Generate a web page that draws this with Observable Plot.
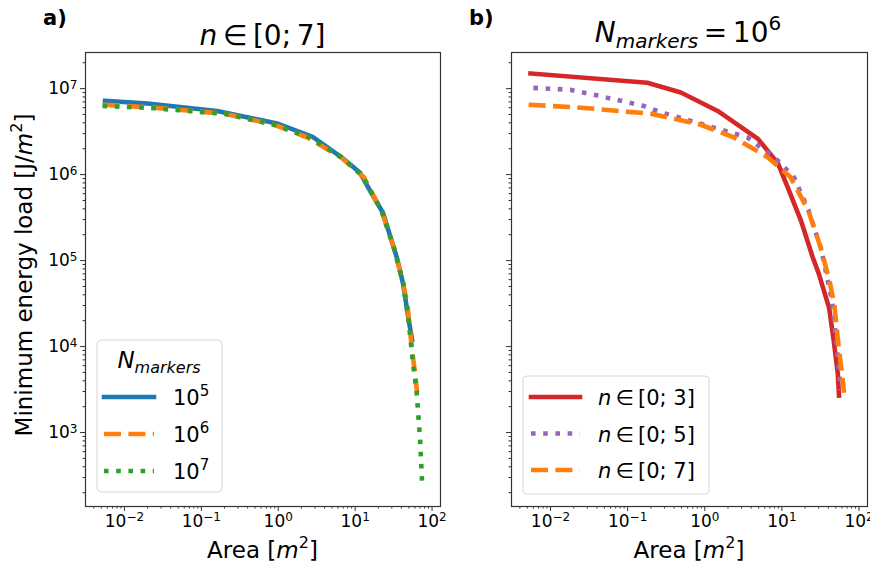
<!DOCTYPE html>
<html><head><meta charset="utf-8">
<script src="https://cdn.jsdelivr.net/npm/d3@7"></script>
<script src="https://cdn.jsdelivr.net/npm/@observablehq/plot@0.6"></script>
<style>
body{margin:0;background:#fff;font-family:"DejaVu Sans",sans-serif;}
#wrap{position:relative;width:870px;height:569px;overflow:hidden;background:#fff;}
#wrap svg{position:absolute;top:0;}
</style></head><body><div id="wrap"></div>
<script>
// ---------- data ----------
const xTickValues = [1e-2, 1e-1, 1e0, 1e1, 1e2];
const yTickValues = [1e3, 1e4, 1e5, 1e6, 1e7];

// panel a) n in [0;7], N_markers = 1e5
const areaN5 = [0.0056, 0.02, 0.16, 1.0, 2.8, 6.6, 11.6, 15.6, 23, 35, 42, 49, 55];
const loadN5 = [7.2e6, 6.7e6, 5.5e6, 3.9e6, 2.75e6, 1.6e6, 1.05e6, 6.5e5, 3.6e5, 1.07e5, 5.4e4, 2.2e4, 1.2e4];
// N_markers = 1e6, n in [0;7] (used in both panels)
const areaN6 = [0.0052, 0.025, 0.2, 0.89, 2.4, 6.6, 13, 22, 32, 42, 48, 55, 60, 64];
const loadN6 = [6.5e6, 6.0e6, 5.1e6, 3.8e6, 2.7e6, 1.58e6, 9.3e5, 3.8e5, 1.4e5, 5.5e4, 3.0e4, 9.0e3, 5.0e3, 2.9e3];
// N_markers = 1e7
const areaN7 = [0.0052, 0.025, 0.2, 0.89, 2.6, 6.6, 12, 22, 32, 42, 49, 57, 63, 70, 74];
const loadN7 = [6.3e6, 5.9e6, 5.1e6, 3.8e6, 2.7e6, 1.6e6, 1.0e6, 3.8e5, 1.4e5, 5.5e4, 2.2e4, 6.0e3, 3.0e3, 8.2e2, 2.75e2];
// panel b) n in [0;3]
const areaR3 = [0.0055, 0.18, 0.49, 1.47, 4.9, 8.9, 11.9, 17.7, 25, 30, 41, 47, 53, 55];
const loadR3 = [1.5e7, 1.17e7, 9.0e6, 5.5e6, 2.6e6, 1.35e6, 7.1e5, 2.9e5, 1.1e5, 7.1e4, 2.8e4, 1.17e4, 4.9e3, 2.7e3];
// n in [0;5]
const areaR5 = [0.006, 0.018, 0.041, 0.16, 0.27, 0.89, 3.6, 8.9, 14.4, 22, 32, 45, 52, 58];
const loadR5 = [1.02e7, 9.7e6, 8.3e6, 6.3e6, 5.3e6, 3.9e6, 2.7e6, 1.45e6, 9.3e5, 3.9e5, 1.4e5, 3.3e4, 9.0e3, 3.1e3];

const legendAExp = [5, 6, 7];          // N_markers = 10^5, 10^6, 10^7
const legendB = ["[0; 3]", "[0; 5]", "[0; 7]"];

// ---------- styles ----------
const LW = 4.6;
const DASHED = "17,7.4";
const DOTTED = "4.6,7.6";
const seriesA = [
  {area: areaN5, load: loadN5, color: "#1f77b4", dash: null, exp: legendAExp[0]},
  {area: areaN6, load: loadN6, color: "#ff7f0e", dash: DASHED, exp: legendAExp[1]},
  {area: areaN7, load: loadN7, color: "#2ca02c", dash: DOTTED, exp: legendAExp[2]}
];
const seriesB = [
  {area: areaR3, load: loadR3, color: "#d62728", dash: null, label: legendB[0]},
  {area: areaR5, load: loadR5, color: "#9467bd", dash: DOTTED, label: legendB[1]},
  {area: areaN6, load: loadN6, color: "#ff7f0e", dash: DASHED, label: legendB[2]}
];

const xDomain = [Math.pow(10, -2.506), Math.pow(10, 2.11)];
const yDomain = [Math.pow(10, 2.14), Math.pow(10, 7.42)];

const supMap = {"-": "⁻", "0": "⁰", "1": "¹", "2": "²", "3": "³", "4": "⁴", "5": "⁵", "6": "⁶", "7": "⁷", "8": "⁸", "9": "⁹"};
const unSup = Object.fromEntries(Object.entries(supMap).map(([k, v]) => [v, k === "-" ? "\u2212" : k]));
const pow10 = v => "10" + String(Math.round(Math.log10(v))).split("").map(c => supMap[c]).join("");

function minorTicks(domain) {
  const out = [];
  const lo = Math.floor(Math.log10(domain[0])), hi = Math.ceil(Math.log10(domain[1]));
  for (let d = lo; d <= hi; d++) for (let k = 2; k <= 9; k++) {
    const v = k * Math.pow(10, d);
    if (v >= domain[0] && v <= domain[1]) out.push(v);
  }
  return out;
}
const rows = s => s.area.map((a, i) => ({area: a, load: s.load[i]}));

function panel(series, showY, width, marginLeft, marginRight) {
  return Plot.plot({
    width, height: 569, marginLeft, marginRight, marginTop: 52, marginBottom: 63,
    style: {fontFamily: "DejaVu Sans", fontSize: "17px", color: "#000", background: "transparent", overflow: "visible"},
    x: {type: "log", domain: xDomain, label: null},
    y: {type: "log", domain: yDomain, label: null},
    marks: [
      Plot.axisX(minorTicks(xDomain), {tickSize: 2.5, tickFormat: () => "", stroke: "#333", label: null}),
      Plot.axisX(xTickValues, {tickSize: 5, tickPadding: 3, tickFormat: pow10, stroke: "#333", fill: "#000", fontSize: 17, label: null}),
      Plot.axisY(minorTicks(yDomain), {tickSize: 2.5, tickFormat: () => "", stroke: "#333", label: null}),
      Plot.axisY(yTickValues, {tickSize: 5, tickPadding: 3, tickFormat: showY ? pow10 : () => "", stroke: "#333", fill: "#000", fontSize: 17, label: null}),
      ...series.map(s => Plot.line(rows(s), {
        x: "area", y: "load", stroke: s.color, strokeWidth: LW,
        strokeDasharray: s.dash || undefined,
        strokeLinecap: s.dash ? "butt" : "square", strokeLinejoin: "round"
      })),
      Plot.frame({stroke: "#333", strokeWidth: 1.2})
    ]
  });
}

// turn "10⁻²" tick texts into "10" + raised smaller exponent (matplotlib mathtext look)
function mathTicks(svgNode) {
  d3.select(svgNode).selectAll("text").each(function () {
    const s = this.textContent;
    if (!s || !s.startsWith("10") || s.length < 3) return;
    const exp = s.slice(2).split("").map(c => unSup[c] || c).join("");
    const t = d3.select(this);
    t.text(null);
    t.append("tspan").text("10");
    t.append("tspan").attr("font-size", 12).attr("dy", "-0.45em").text(exp);
  });
}

const wrap = document.getElementById("wrap");
const pa = panel(seriesA, true, 450, 85, 10);
pa.style.left = "0px";
mathTicks(pa);
wrap.appendChild(pa);
const pb = panel(seriesB, false, 430, 71, 3);
pb.style.left = "440px";
mathTicks(pb);
wrap.appendChild(pb);

// ---------- overlay: titles, labels, legends ----------
const svg = d3.select(wrap).append("svg")
  .attr("width", 870).attr("height", 569)
  .style("left", "0px").style("pointer-events", "none")
  .attr("font-family", "DejaVu Sans").attr("fill", "#000");

svg.append("text").attr("x", 43).attr("y", 25).attr("font-size", 21).attr("font-weight", "bold").text("a)");
svg.append("text").attr("x", 469).attr("y", 25).attr("font-size", 21).attr("font-weight", "bold").text("b)");

// titles
const t1 = svg.append("text").attr("x", 262.5).attr("y", 45).attr("font-size", 28).attr("text-anchor", "middle");
t1.append("tspan").attr("font-style", "italic").text("n");
t1.append("tspan").text("\u2009∈\u2009[0;\u20097]");

const t2 = svg.append("text").attr("x", 688).attr("y", 42).attr("font-size", 28).attr("text-anchor", "middle");
t2.append("tspan").attr("font-style", "italic").text("N");
t2.append("tspan").attr("font-style", "italic").attr("font-size", 20).attr("dy", 6).text("markers");
t2.append("tspan").attr("dy", -6).text("\u2009=\u200910");
t2.append("tspan").attr("font-size", 20).attr("dy", -12).text("6");

// x labels
for (const cx of [262.5, 689]) {
  const t = svg.append("text").attr("x", cx).attr("y", 558).attr("font-size", 23).attr("text-anchor", "middle");
  t.append("tspan").text("Area [");
  t.append("tspan").attr("font-style", "italic").text("m");
  t.append("tspan").attr("font-size", 16).attr("dy", -10).text("2");
  t.append("tspan").attr("dy", 10).text("]");
}
// y label
const yl = svg.append("text").attr("transform", "translate(32,275) rotate(-90)").attr("font-size", 23).attr("text-anchor", "middle");
yl.append("tspan").text("Minimum energy load [J/");
yl.append("tspan").attr("font-style", "italic").text("m");
yl.append("tspan").attr("font-size", 16).attr("dy", -10).text("2");
yl.append("tspan").attr("dy", 10).text("]");

function lineSample(g, s, x1, x2, y) {
  g.append("line").attr("x1", x1).attr("x2", x2).attr("y1", y).attr("y2", y)
    .attr("stroke", s.color).attr("stroke-width", LW)
    .attr("stroke-dasharray", s.dash || null)
    .attr("stroke-linecap", s.dash ? "butt" : "square");
}

// legend a
const la = svg.append("g");
la.append("rect").attr("x", 97).attr("y", 340).attr("width", 125).attr("height", 152).attr("rx", 4)
  .attr("fill", "#fff").attr("fill-opacity", 0.8).attr("stroke", "#d6d6d6").attr("stroke-width", 1);
const lt = la.append("text").attr("x", 159).attr("y", 368).attr("font-size", 23).attr("text-anchor", "middle");
lt.append("tspan").attr("font-style", "italic").text("N");
lt.append("tspan").attr("font-style", "italic").attr("font-size", 16).attr("dy", 5).text("markers");
seriesA.forEach((s, i) => {
  const y = 397 + i * 37;
  lineSample(la, s, 104, 154, y);
  const t = la.append("text").attr("x", 173).attr("y", y + 8).attr("font-size", 21);
  t.append("tspan").text("10");
  t.append("tspan").attr("font-size", 15).attr("dy", -9).text(String(s.exp));
});

// legend b
const lb = svg.append("g");
lb.append("rect").attr("x", 523).attr("y", 376).attr("width", 186).attr("height", 118).attr("rx", 4)
  .attr("fill", "#fff").attr("fill-opacity", 0.8).attr("stroke", "#d6d6d6").attr("stroke-width", 1);
seriesB.forEach((s, i) => {
  const y = 397 + i * 36.5;
  lineSample(lb, s, 531, 580, y);
  const t = lb.append("text").attr("x", 598).attr("y", y + 8).attr("font-size", 21);
  t.append("tspan").attr("font-style", "italic").text("n");
  t.append("tspan").text("\u2009∈\u2009" + s.label);
});
</script></body></html>
